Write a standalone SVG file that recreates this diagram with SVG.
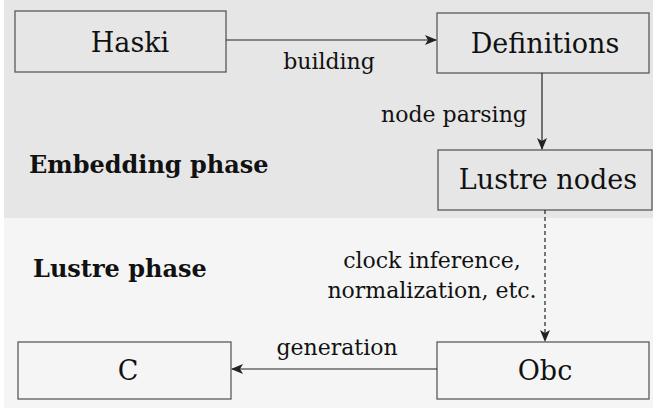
<svg xmlns="http://www.w3.org/2000/svg" width="653" height="410" viewBox="0 0 653 410">
  <style>
    .box { fill: none; stroke: #5a5a5a; stroke-width: 1.3; }
    .node { font-family: "DejaVu Serif", "Liberation Serif", serif; font-size: 27px; fill: #111; text-anchor: middle; }
    .lbl { font-family: "DejaVu Serif", "Liberation Serif", serif; font-size: 22px; fill: #111; text-anchor: middle; }
    .phase { font-family: "DejaVu Serif", "Liberation Serif", serif; font-size: 24px; font-weight: bold; fill: #111; }
    .edge { fill: none; stroke: #222; stroke-width: 1.2; }
    .dash { stroke-dasharray: 4 3; }
  </style>
  <defs>
    <marker id="arrow" viewBox="0 0 12 10" refX="11" refY="5" markerWidth="12" markerHeight="10" markerUnits="userSpaceOnUse" orient="auto">
      <path d="M0,0 L12,5 L0,10 L3,5 Z" fill="#222"/>
    </marker>
  </defs>

  <!-- phase backgrounds -->
  <rect x="4" y="0" width="649" height="218" fill="#e6e6e6"/>
  <rect x="4" y="218" width="649" height="190" fill="#f5f5f5"/>

  <text class="phase" x="29" y="173">Embedding phase</text>
  <text class="phase" x="33" y="277">Lustre phase</text>

  <g id="haski">
    <rect class="box" x="15" y="11" width="211" height="61"/>
    <text class="node" x="130" y="52">Haski</text>
  </g>
  <g id="definitions">
    <rect class="box" x="437" y="13" width="212" height="60"/>
    <text class="node" x="545" y="53">Definitions</text>
  </g>
  <g id="lustre-nodes">
    <rect class="box" x="438" y="150" width="214" height="60"/>
    <text class="node" x="548" y="189">Lustre nodes</text>
  </g>
  <g id="obc">
    <rect class="box" x="437" y="342" width="212" height="57"/>
    <text class="node" x="545" y="380">Obc</text>
  </g>
  <g id="c">
    <rect class="box" x="18" y="342" width="213" height="57"/>
    <text class="node" x="128" y="380">C</text>
  </g>

  <g id="connectors">
    <line class="edge" x1="226" y1="40" x2="436" y2="40" marker-end="url(#arrow)"/>
    <text class="lbl" x="329" y="69">building</text>
    <line class="edge" x1="542" y1="73" x2="542" y2="149" marker-end="url(#arrow)"/>
    <text class="lbl" x="454" y="122">node parsing</text>
    <line class="edge dash" x1="545" y1="210" x2="545" y2="341" marker-end="url(#arrow)"/>
    <text class="lbl" x="432" y="268">clock inference,</text>
    <text class="lbl" x="432" y="298">normalization, etc.</text>
    <line class="edge" x1="437" y1="369" x2="232" y2="369" marker-end="url(#arrow)"/>
    <text class="lbl" x="337" y="355">generation</text>
  </g>
</svg>
